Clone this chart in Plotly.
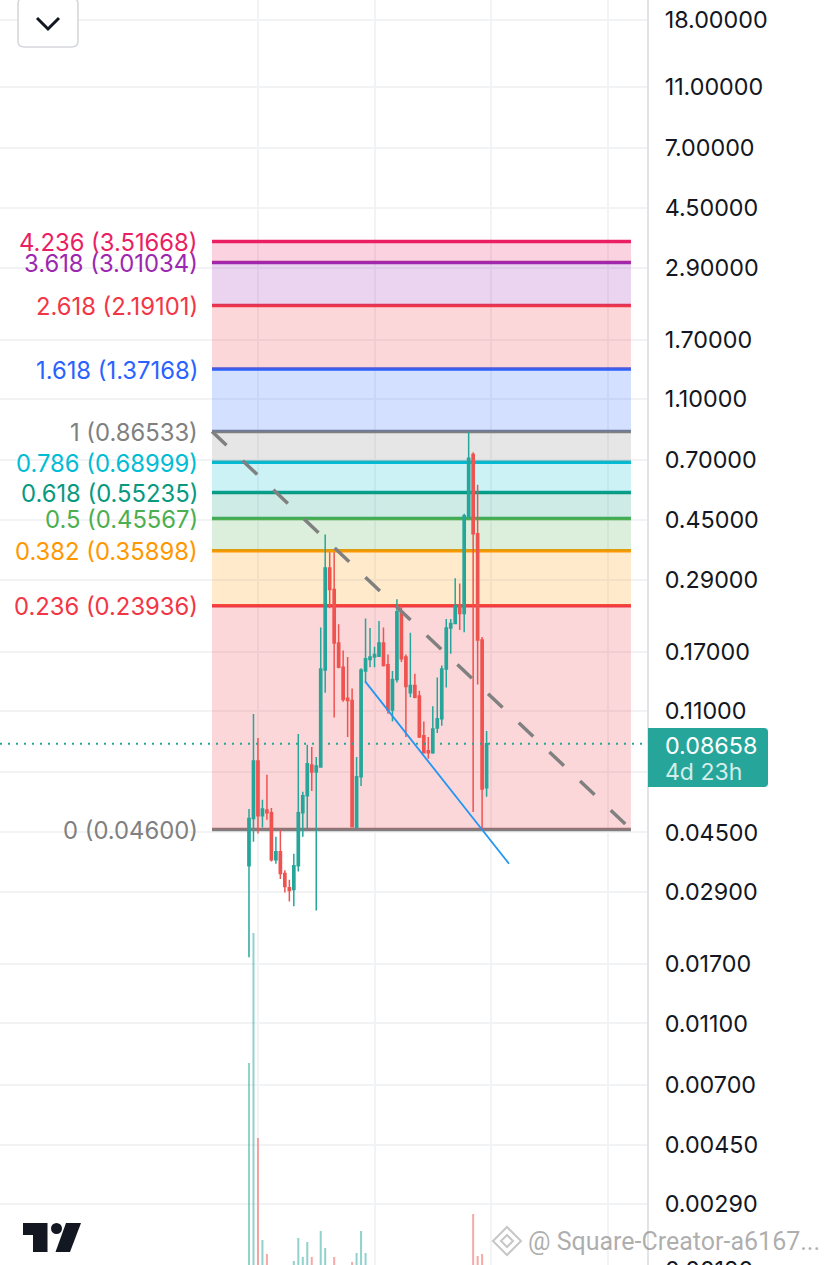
import math
import plotly.graph_objects as go

opens = [.0352, .0498, .0762, .0509, .0531, .0520, .0368, .0390, .0332, .0299,
         .0295, .0352, .0520, .0589, .0740, .0702, .0729, .149, .316, .270,
         .182, .152, .121, .119, .0466, .0678, .148, .161, .164, .165,
         .182, .155, .111, .139, .229, .164, .126, .133, .123, .0917,
         .0821, .0809, .0972, .104, .150, .203, .210, .240, .226, .459,
         .731, .407, .186, .0625]
highs = [.0535, .1078, .0903, .0572, .0688, .0539, .0436, .0459, .0340, .0317,
         .0384, .0930, .0607, .0858, .0845, .0785, .204, .405, .355, .355,
         .209, .172, .164, .130, .0785, .151, .218, .203, .177, .214,
         .204, .167, .148, .251, .240, .167, .196, .145, .128, .102,
         .091, .114, .141, .154, .217, .217, .293, .282, .472, .862,
         .743, .584, .190, .0951]
lows = [.0179, .0420, .0446, .0466, .0494, .0363, .0357, .0319, .0289, .0270,
        .0261, .0337, .0436, .0462, .0611, .0253, .0729, .126, .235, .105,
        .151, .118, .091, .0466, .0466, .0634, .136, .152, .152, .164,
        .153, .108, .102, .136, .158, .091, .122, .121, .0903, .0809,
        .0774, .0803, .0937, .0988, .131, .168, .209, .200, .197, .459,
        .0523, .134, .0459, .0585]
closes = [.0498, .0762, .0509, .0535, .0520, .0368, .0390, .0332, .0302, .0293,
          .0352, .0520, .0589, .0746, .0702, .0734, .150, .316, .270, .182,
          .152, .120, .119, .0469, .0678, .149, .162, .164, .167, .182,
          .154, .111, .139, .229, .162, .132, .133, .122, .091, .0809,
          .0809, .0965, .104, .150, .203, .210, .240, .226, .465, .710,
          .407, .186, .0620, .08658]
volumes = [202, 332, 127, 25, 11, 0, 0, 0, 0, 0,
           4, 27, 8, 23, 8, 0, 34, 17, 0, 8,
           0, 0, 0, 3, 12, 34, 12, 0, 0, 0,
           0, 0, 0, 0, 0, 0, 0, 0, 0, 0,
           0, 0, 0, 0, 0, 0, 0, 0, 0, 0,
           51, 9, 11, 0]

price_ticks = [18, 11, 7, 4.5, 2.9, 1.7, 1.1, .7, .45, .29, .17, .11, .07,
               .045, .029, .017, .011, .007, .0045, .0029]
hidden_ticks = [.07]  # covered by the last price tag
time_ticks = [2, 28, 54, 80]

fib_ratios = ["0", "0.236", "0.382", "0.5", "0.618", "0.786", "1", "1.618", "2.618", "3.618", "4.236"]
fib_prices = [.046, .23936, .35898, .45567, .55235, .68999, .86533, 1.37168, 2.19101, 3.01034, 3.51668]
fib_colors = ["#808080", "#f23645", "#ff9800", "#4caf50", "#089981", "#00bcd4", "#808080",
              "#2962ff", "#f23645", "#9c27b0", "#e91e63"]
fib_x = [-8.25, 85.2]
trend_x = [25.9, 58]
trend_y = [.137, .0357]
last_price = .08658

UP = "#26a69a"
DOWN = "#ef5350"
GRID = "#f2f3f5"
W, H = 647, 1265
FONT = "Inter"


def hex_rgba(c, a):
    return f"rgba({int(c[1:3], 16)},{int(c[3:5], 16)},{int(c[5:7], 16)},{a})"


def px(x):
    return x / W


def py(y):
    return 1 - y / H


def path(points, close=True):
    s = "M" + " L".join(f"{px(x):.5f},{py(y):.5f}" for x, y in points)
    return s + (" Z" if close else "")


def ui_shape(d, fill="rgba(0,0,0,0)", line="rgba(0,0,0,0)", width=0):
    return dict(type="path", xref="paper", yref="paper", path=d, fillcolor=fill,
                line=dict(color=line, width=width), layer="above")


def rounded(x0, y0, x1, y1, r, left=True):
    rl = r if left else 0
    return (f"M{px(x0 + rl):.5f},{py(y0):.5f} L{px(x1 - r):.5f},{py(y0):.5f} "
            f"Q{px(x1):.5f},{py(y0):.5f} {px(x1):.5f},{py(y0 + r):.5f} "
            f"L{px(x1):.5f},{py(y1 - r):.5f} Q{px(x1):.5f},{py(y1):.5f} {px(x1 - r):.5f},{py(y1):.5f} "
            f"L{px(x0 + rl):.5f},{py(y1):.5f} Q{px(x0):.5f},{py(y1):.5f} {px(x0):.5f},{py(y1 - rl):.5f} "
            f"L{px(x0):.5f},{py(y0 + rl):.5f} Q{px(x0):.5f},{py(y0):.5f} {px(x0 + rl):.5f},{py(y0):.5f} Z")


idx = list(range(len(closes)))
fig = go.Figure()

vol_colors = [hex_rgba(UP if c >= o else DOWN, .5) for o, c in zip(opens, closes)]
fig.add_trace(go.Bar(x=idx, y=volumes, yaxis="y2", marker=dict(color=vol_colors, line_width=0),
                     width=.45, hoverinfo="skip", showlegend=False))

fig.add_trace(go.Candlestick(x=idx, open=opens, high=highs, low=lows, close=closes,
                             increasing=dict(line=dict(color=UP, width=1.5), fillcolor=UP),
                             decreasing=dict(line=dict(color=DOWN, width=1.5), fillcolor=DOWN),
                             whiskerwidth=0, hoverinfo="skip", showlegend=False))

# fib retracement diagonal, trend line and last price line go over the candles
fig.add_trace(go.Scatter(x=fib_x, y=[fib_prices[6], fib_prices[0]], mode="lines",
                         line=dict(color="#808080", width=3.5, dash="20px,22.3px"),
                         hoverinfo="skip", showlegend=False))
fig.add_trace(go.Scatter(x=trend_x, y=trend_y, mode="lines", line=dict(color="#2196f3", width=1.8),
                         hoverinfo="skip", showlegend=False))
fig.add_trace(go.Scatter(x=[-55.54, 88.78], y=[last_price, last_price], mode="lines",
                         line=dict(color=UP, width=2, dash="2px,6px"),
                         hoverinfo="skip", showlegend=False))

shapes = []
annotations = []
for i, (ratio, price, color) in enumerate(zip(fib_ratios, fib_prices, fib_colors)):
    if i > 0:
        shapes.append(dict(type="rect", xref="x", yref="y", x0=fib_x[0], x1=fib_x[1],
                           y0=fib_prices[i - 1], y1=price, fillcolor=hex_rgba(color, .2),
                           line_width=0, layer="between"))
    shapes.append(dict(type="line", xref="x", yref="y", x0=fib_x[0], x1=fib_x[1], y0=price, y1=price,
                       line=dict(color=color, width=3.5), layer="between"))
    annotations.append(dict(xref="x", yref="y", x=fib_x[0], y=math.log10(price), xshift=-12, yshift=-1,
                            xanchor="right", yanchor="middle", showarrow=False,
                            text=f"{ratio} ({price:.5f})", font=dict(family=FONT, size=23.8, color=color)))

# last price tag
shapes.append(ui_shape(rounded(648, 728, 768, 787, 4, left=False), fill=UP))
annotations.append(dict(xref="paper", yref="paper", x=px(663), y=py(745), xanchor="left", yanchor="middle",
                        showarrow=False, text="0.08658", font=dict(family=FONT, size=23.3, color="#ffffff")))
annotations.append(dict(xref="paper", yref="paper", x=px(663), y=py(772), xanchor="left", yanchor="middle",
                        showarrow=False, text="4d 23h", font=dict(family=FONT, size=23, color="#d4edeb")))
# cut off by the bottom of the window
annotations.append(dict(xref="paper", yref="paper", x=px(663), y=py(1265), xanchor="left", yanchor="middle",
                        yshift=-4, showarrow=False, text="0.00180", font=dict(family=FONT, size=23.3, color="#131722")))

# collapse button
shapes.append(ui_shape(rounded(18, -2, 78, 47, 6), fill="#ffffff", line="#d6d8dd", width=1.6))
shapes.append(ui_shape(path([(37, 18), (48, 29), (59, 18)], close=False), line="#131722", width=3))

# logo
shapes.append(ui_shape(path([(23, 1223), (47.5, 1223), (47.5, 1252), (33, 1252), (33, 1235), (23, 1235)]), fill="#131722"))
shapes.append(ui_shape(path([(66, 1223), (81, 1223), (70, 1252), (55.5, 1252)]), fill="#131722"))
shapes.append(dict(type="circle", xref="paper", yref="paper", x0=px(51), x1=px(62), y0=py(1234), y1=py(1223),
                   fillcolor="#131722", line_width=0, layer="above"))

# watermark
shapes.append(ui_shape(path([(507, 1227), (521, 1241), (507, 1255), (493, 1241)]), line="rgba(130,130,130,.45)", width=2))
shapes.append(ui_shape(path([(507, 1235), (513, 1241), (507, 1247), (501, 1241)]), line="rgba(130,130,130,.45)", width=2))
annotations.append(dict(xref="paper", yref="paper", x=px(526), y=py(1241), xanchor="left", yanchor="middle",
                        showarrow=False, text="@ Square-Creator-a6167...",
                        font=dict(family="Roboto", size=25, color="rgba(120,120,120,.6)")))

fig.update_layout(
    width=828, height=1265, margin=dict(l=0, r=181, t=0, b=0),
    paper_bgcolor="#ffffff", plot_bgcolor="#ffffff", showlegend=False, boxgap=.3,
    shapes=shapes, annotations=annotations,
    xaxis=dict(range=[-55.54, 88.78], tickvals=time_ticks, showticklabels=False, ticks="",
               showgrid=True, gridcolor=GRID, gridwidth=1.7, zeroline=False, rangeslider=dict(visible=False)),
    yaxis=dict(type="log", range=[-2.7326, 1.3194], side="right", tickmode="array", tickvals=price_ticks,
               ticktext=["" if t in hidden_ticks else f"{t:.5f}" for t in price_ticks],
               ticks="outside", ticklen=11, tickcolor="rgba(0,0,0,0)",
               tickfont=dict(family=FONT, size=23.3, color="#131722"),
               showgrid=True, gridcolor=GRID, gridwidth=1.7, zeroline=False,
               showline=True, linecolor="#e2e3e6", linewidth=2),
    yaxis2=dict(overlaying="y", range=[0, 1265], visible=False, fixedrange=True),
)

fig.write_html("out.html", config=dict(displayModeBar=False),
               post_script="document.body.style.margin='0';")
